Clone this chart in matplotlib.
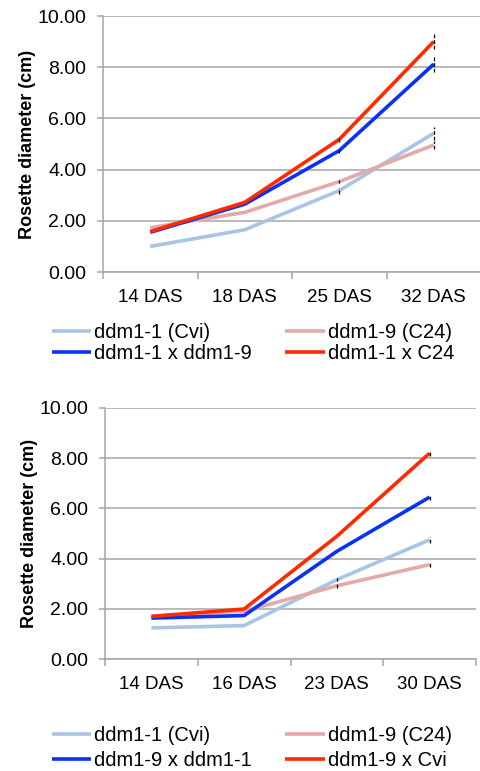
import numpy as np
import matplotlib.pyplot as plt

plt.rcParams['font.family'] = ['Liberation Sans', 'DejaVu Sans']

## Data

days_a = ['14 DAS', '18 DAS', '25 DAS', '32 DAS']
cvi_a = [1.00, 1.65, 3.18, 5.42]
c24_a = [1.73, 2.33, 3.53, 4.96]
cross1_a = [1.55, 2.65, 4.74, 8.12]
cross2_a = [1.58, 2.72, 5.18, 9.00]
cvi_a_err = [0.0, 0.0, 0.12, 0.25]
c24_a_err = [0.0, 0.0, 0.05, 0.15]
cross1_a_err = [0.0, 0.0, 0.08, 0.30]
cross2_a_err = [0.0, 0.0, 0.10, 0.30]
labels_a = ['ddm1-1 (Cvi)', 'ddm1-9 (C24)', 'ddm1-1 x ddm1-9', 'ddm1-1 x C24']

days_b = ['14 DAS', '16 DAS', '23 DAS', '30 DAS']
cvi_b = [1.24, 1.33, 3.16, 4.75]
c24_b = [1.70, 1.90, 2.92, 3.76]
cross1_b = [1.63, 1.73, 4.29, 6.45]
cross2_b = [1.70, 1.99, 4.89, 8.20]
cvi_b_err = [0.0, 0.0, 0.05, 0.12]
c24_b_err = [0.0, 0.0, 0.08, 0.10]
cross1_b_err = [0.0, 0.0, 0.0, 0.10]
cross2_b_err = [0.0, 0.0, 0.0, 0.10]
labels_b = ['ddm1-1 (Cvi)', 'ddm1-9 (C24)', 'ddm1-9 x ddm1-1', 'ddm1-9 x Cvi']

Colors = ['#a9c4e4', '#e4a9a9', '#0a32f5', '#ff2a00']
grid_col = '#a6a6a6'


def draw_panel(ax, days, Series, Errors, labels, xmax, leg_y, leg_sp):
    x = np.arange(len(days))
    handles = []
    for j in range(len(Series)):
        h, = ax.plot(x, Series[j], color=Colors[j], lw=2.6, label=labels[j],
                     solid_capstyle='butt', zorder=3 + j)
        handles.append(h)
    for j in range(len(Series)):
        e = np.array(Errors[j])
        keep = e > 0
        eb = ax.errorbar(x[keep], np.array(Series[j])[keep], yerr=e[keep], fmt='none',
                         ecolor='k', elinewidth=0.9, capsize=0, zorder=10)
        eb[2][0].set_linestyle((0, (3, 1.5)))
    ax.set_ylim(0, 10)
    ax.set_xlim(-0.5, xmax)
    ax.set_yticks(np.arange(0, 10.01, 2))
    ax.set_yticklabels(['%.2f' % v for v in np.arange(0, 10.01, 2)], fontsize=14)
    ax.yaxis.grid(True, color=grid_col, lw=1.1)
    ax.set_axisbelow(True)
    ax.set_xticks(np.arange(-0.5, len(days), 1.0))
    ax.set_xticklabels([])
    ax.set_xticks(x, minor=True)
    ax.set_xticklabels(days, minor=True, fontsize=13.5)
    ax.tick_params(axis='x', which='major', length=5, color=grid_col, width=1.1)
    ax.tick_params(axis='x', which='minor', length=0, pad=12)
    ax.tick_params(axis='y', length=4, color=grid_col, width=1.1, pad=8)
    for s in ['top', 'right']:
        ax.spines[s].set_visible(False)
    for s in ['left', 'bottom']:
        ax.spines[s].set_color(grid_col)
        ax.spines[s].set_linewidth(1.1)
    ax.set_ylabel('Rosette diameter (cm)', fontsize=13, fontweight='bold', labelpad=1)
    order = [0, 2, 1, 3]
    fig.legend([handles[i] for i in order], [labels[i] for i in order],
               loc='upper left', bbox_to_anchor=(52 / 481, leg_y), ncol=2,
               frameon=False, fontsize=14.5, handlelength=1.95, handletextpad=0.15,
               columnspacing=1.65, labelspacing=leg_sp, borderaxespad=0, borderpad=0)


fig = plt.figure(figsize=(4.81, 7.71), dpi=100)
ax1 = fig.add_axes([103 / 481, 1 - 272 / 771, 378 / 481, 256 / 771])
ax2 = fig.add_axes([105 / 481, 1 - 659 / 771, 371 / 481, 251 / 771])

draw_panel(ax1, days_a, [cvi_a, c24_a, cross1_a, cross2_a],
           [cvi_a_err, c24_a_err, cross1_a_err, cross2_a_err], labels_a,
           -0.5 + 378 / 96, 1 - 323 / 771, 0.08)
draw_panel(ax2, days_b, [cvi_b, c24_b, cross1_b, cross2_b],
           [cvi_b_err, c24_b_err, cross1_b_err, cross2_b_err], labels_b,
           3.5, 1 - 726 / 771, 0.3)

fig.savefig('out.png', dpi=100)
